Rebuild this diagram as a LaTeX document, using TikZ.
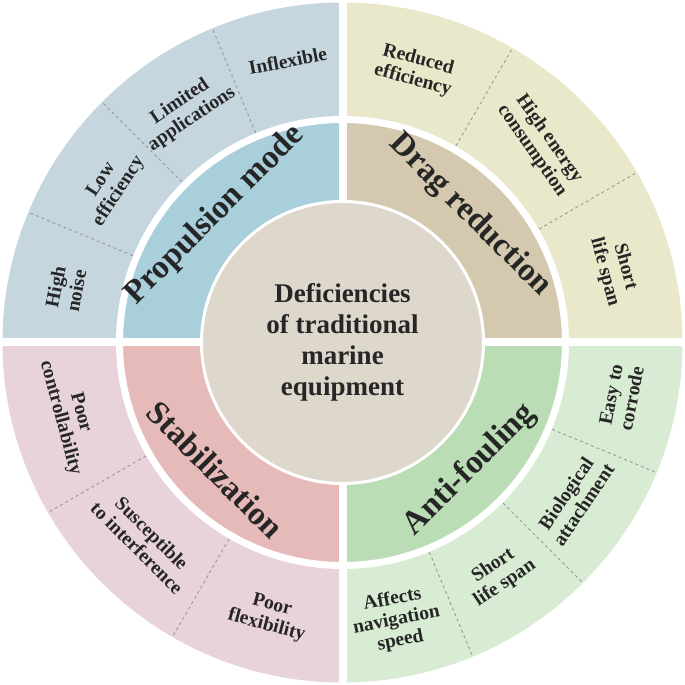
\documentclass[tikz,border=0pt]{standalone}
\usepackage{fontspec}
\usetikzlibrary{calc}
\setmainfont{Liberation Serif}
\begin{document}
\begin{tikzpicture}[x=1pt,y=1pt,
 lab/.style={font=\bfseries\fontsize{19.5}{21}\selectfont,align=center,text=black!85},
 ttl/.style={font=\bfseries\fontsize{33}{35}\selectfont,text=black!85},
 dv/.style={draw=gray!80,dashed,line width=0.9pt}]
\useasboundingbox (0,0) rectangle (685,685);
\coordinate (c) at (342.5,342.5);
\definecolor{pO}{HTML}{C6D6DF}\definecolor{pI}{HTML}{A9CFDB}
\definecolor{dO}{HTML}{EAE8CA}\definecolor{dI}{HTML}{D4C9AF}
\definecolor{aO}{HTML}{D8EBD3}\definecolor{aI}{HTML}{BADDB6}
\definecolor{sO}{HTML}{E7D3D9}\definecolor{sI}{HTML}{E7BABA}
\definecolor{cC}{HTML}{DDD7CC}
\foreach \a/\o/\i in {90/pO/pI,0/dO/dI,-90/aO/aI,180/sO/sI}{
 \fill[\o] (c) -- ++(\a:340) arc[start angle=\a,end angle=\a+90,radius=340] -- cycle;
 \fill[\i] (c) -- ++(\a:220) arc[start angle=\a,end angle=\a+90,radius=220] -- cycle;}
\draw[white,line width=7pt] (c) circle[radius=223];
\draw[white,line width=8pt] (2,342.5) -- (683,342.5) (342.5,2) -- (342.5,683);
\foreach \a in {112.5,135,157.5,60,30,-22.5,-45,-67.5,210,240}
 \draw[dv] ($(c)+(\a:227)$) -- ($(c)+(\a:339)$);
\fill[cC,draw=white,line width=3pt] (c) circle[radius=141];
\node[font=\bfseries\fontsize{27}{31}\selectfont,align=center,text=black!85] (ctr) at (c) {Deficiencies\\of traditional\\marine\\equipment};
\node[ttl,rotate=45] (tp) at ($(c)+(135:180)$) {Propulsion mode};
\node[ttl,rotate=-45] (td) at ($(c)+(45:180)$) {Drag reduction};
\node[ttl,rotate=45] (ta) at ($(c)+(-45:180)$) {Anti-fouling};
\node[ttl,rotate=-45] (ts) at ($(c)+(225:180)$) {Stabilization};
\node[lab,rotate=11] (p1) at ($(c)+(101:287)$) {Inflexible};
\node[lab,rotate=34] (p2) at ($(c)+(124:280)$) {Limited\\applications};
\node[lab,rotate=57] (p3) at ($(c)+(146:280)$) {Low\\efficiency};
\node[lab,rotate=79] (p4) at ($(c)+(169:282)$) {High\\noise};
\node[lab,rotate=-15] (d1) at ($(c)+(75:282)$) {Reduced\\efficiency};
\node[lab,rotate=-55] (d2) at ($(c)+(45:280)$) {High energy\\consumption};
\node[lab,rotate=-75] (d3) at ($(c)+(15:282)$) {Short\\life span};
\node[lab,rotate=79] (a1) at ($(c)+(-11:284)$) {Easy to\\corrode};
\node[lab,rotate=56] (a2) at ($(c)+(-34:280)$) {Biological\\attachment};
\node[lab,rotate=34] (a3) at ($(c)+(-56:280)$) {Short\\life span};
\node[lab,rotate=11] (a4) at ($(c)+(-79:283)$) {Affects\\navigation\\speed};
\node[lab,rotate=-75] (s1) at ($(c)+(195:282)$) {Poor\\controllability};
\node[lab,rotate=-45] (s2) at ($(c)+(225:280)$) {Susceptible\\to interference};
\node[lab,rotate=-15] (s3) at ($(c)+(255:283)$) {Poor\\flexibility};
\end{tikzpicture}
\end{document}
